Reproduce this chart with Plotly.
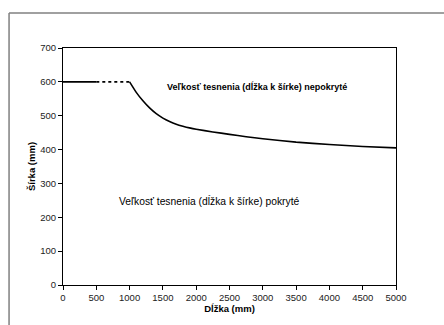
import plotly.graph_objects as go

# Seal size: length (mm) vs. width (mm)
dlzka = [0, 500, 1000, 1100, 1200, 1300, 1400, 1500, 1600, 1700, 1800, 1900, 2000,
         2250, 2500, 2750, 3000, 3500, 4000, 4500, 5000]
sirka = [600, 600, 600, 569, 544, 523, 506, 493, 483, 475, 469, 464, 460,
         452, 445, 438, 432, 422, 415, 409, 405]

x_ticks = [0, 500, 1000, 1500, 2000, 2500, 3000, 3500, 4000, 4500, 5000]
y_ticks = [0, 100, 200, 300, 400, 500, 600, 700]

label_nepokryte = "Veľkosť tesnenia (dĺžka k šírke) nepokryté"
label_pokryte = "Veľkosť tesnenia (dĺžka k šírke) pokryté"

font = "Liberation Sans, Arial, sans-serif"

fig = go.Figure()

# solid flat start
fig.add_trace(go.Scatter(x=dlzka[:2], y=sirka[:2], mode="lines",
                         line=dict(color="black", width=1.6), showlegend=False))
# dotted part of the flat section
fig.add_trace(go.Scatter(x=dlzka[1:3], y=sirka[1:3], mode="lines",
                         line=dict(color="black", width=1.8, dash="dot"), showlegend=False))
# decaying limit curve
fig.add_trace(go.Scatter(x=dlzka[2:], y=sirka[2:], mode="lines",
                         line=dict(color="black", width=1.6, shape="spline", smoothing=0.5),
                         showlegend=False))

fig.add_annotation(x=2915, y=585, text="<b>" + label_nepokryte + "</b>", showarrow=False,
                   font=dict(family=font, size=9, color="black"))
fig.add_annotation(x=2205, y=248, text=label_pokryte, showarrow=False,
                   font=dict(family=font, size=10.3, color="black"))

# outer chart frame (top and left edges)
frame = dict(color="#808080", width=1.5)
fig.add_shape(type="line", xref="paper", yref="paper", x0=-0.162, x1=1.2, y0=1.1477, y1=1.1477, line=frame)
fig.add_shape(type="line", xref="paper", yref="paper", x0=-0.162, x1=-0.162, y0=1.1477, y1=-0.2, line=frame)

axis_common = dict(showline=True, linecolor="black", linewidth=1, mirror=True,
                   ticks="outside", ticklen=4, tickcolor="black", tickwidth=1,
                   showgrid=False, zeroline=False,
                   tickfont=dict(family=font, size=9.5, color="#222"))

fig.update_xaxes(range=[0, 5000], tickvals=x_ticks, **axis_common,
                 title=dict(text="<b>Dĺžka (mm)</b>", font=dict(family=font, size=9.5, color="black"),
                            standoff=2))
fig.update_yaxes(range=[0, 700], tickvals=y_ticks, **axis_common,
                 title=dict(text="<b>Šírka (mm)</b>", font=dict(family=font, size=9.5, color="black"),
                            standoff=2))

fig.update_layout(width=444, height=325,
                  margin=dict(l=63, r=48, t=48, b=40),
                  paper_bgcolor="white", plot_bgcolor="white")

fig.write_html("out.html")
